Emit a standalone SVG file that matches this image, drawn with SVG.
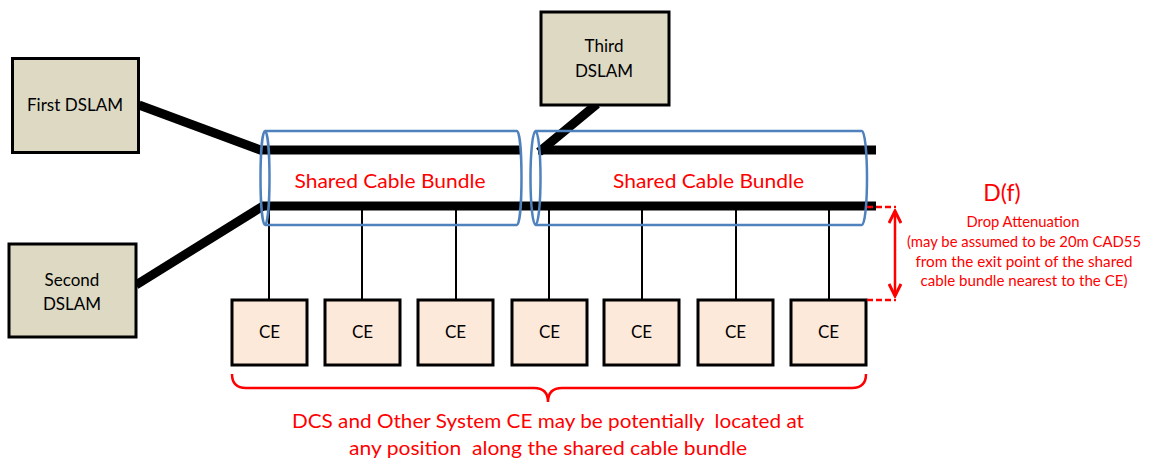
<svg xmlns="http://www.w3.org/2000/svg" width="1157" height="459" viewBox="0 0 1157 459">
<defs>
<style>
.dslam{fill:#DDD9C3;stroke:#000;stroke-width:3}
.ce{fill:#FDE9D9;stroke:#000;stroke-width:3}
.lbl{font-family:Lato,"Liberation Sans",sans-serif;font-size:17px;fill:#000;text-anchor:middle}
.red{font-family:Lato,"Liberation Sans",sans-serif;fill:#FF0000;text-anchor:middle}
.thick{stroke:#000;stroke-width:9;fill:none}
.drop{stroke:#000;stroke-width:2;fill:none}
.bundle{fill:none;stroke:#4F81BD;stroke-width:2.5}
.rl{stroke:#FF0000;stroke-width:2.5;fill:none}
</style>
<marker id="chev" viewBox="0 0 16 14" refX="14" refY="7" markerWidth="16" markerHeight="14" markerUnits="userSpaceOnUse" orient="auto-start-reverse">
<path d="M2,1 L14,7 L2,13" fill="none" stroke="#FF0000" stroke-width="3"/>
</marker>
</defs>
<rect width="1157" height="459" fill="#fff"/>

<g id="connectors">
<line class="thick" x1="139" y1="105" x2="263" y2="151"/>
<line class="thick" x1="136" y1="285" x2="263" y2="206"/>
<line class="thick" x1="597" y1="104" x2="539" y2="152"/>
<line class="thick" x1="262" y1="150" x2="521" y2="150"/>
<line class="thick" x1="538" y1="150" x2="876" y2="150"/>
<line class="thick" x1="262" y1="206" x2="876" y2="206"/>
<line class="drop" x1="269" y1="206" x2="269" y2="300"/>
<line class="drop" x1="362" y1="206" x2="362" y2="300"/>
<line class="drop" x1="456" y1="206" x2="456" y2="300"/>
<line class="drop" x1="549" y1="206" x2="549" y2="300"/>
<line class="drop" x1="642" y1="206" x2="642" y2="300"/>
<line class="drop" x1="736" y1="206" x2="736" y2="300"/>
<line class="drop" x1="829" y1="206" x2="829" y2="300"/>
</g>

<g id="bundle1">
<ellipse class="bundle" cx="265" cy="178" rx="4.5" ry="47"/>
<path class="bundle" d="M265,131 H517 A4.5,47 0 0 1 517,225 H265"/>
<text class="red" x="390" y="188" font-size="20" textLength="191" lengthAdjust="spacingAndGlyphs">Shared Cable Bundle</text>
</g>
<g id="bundle2">
<ellipse class="bundle" cx="535.5" cy="178" rx="5" ry="47"/>
<path class="bundle" d="M535.5,131 H862 A5,47 0 0 1 862,225 H535.5"/>
<text class="red" x="708.5" y="188" font-size="20" textLength="191" lengthAdjust="spacingAndGlyphs">Shared Cable Bundle</text>
</g>

<g id="first-dslam">
<rect class="dslam" x="12.5" y="58.5" width="126" height="94"/>
<text class="lbl" x="75" y="111" textLength="96" lengthAdjust="spacingAndGlyphs">First DSLAM</text>
</g>
<g id="second-dslam">
<rect class="dslam" x="9" y="244" width="127" height="93"/>
<text class="lbl" x="72" y="286">Second</text>
<text class="lbl" x="72" y="310">DSLAM</text>
</g>
<g id="third-dslam">
<rect class="dslam" x="541" y="12" width="128" height="93"/>
<text class="lbl" x="604" y="52">Third</text>
<text class="lbl" x="604" y="77">DSLAM</text>
</g>

<g id="ce1"><rect class="ce" x="232" y="300" width="75" height="65"/><text class="lbl" x="269.5" y="338">CE</text></g>
<g id="ce2"><rect class="ce" x="325" y="300" width="75" height="65"/><text class="lbl" x="362.5" y="338">CE</text></g>
<g id="ce3"><rect class="ce" x="418" y="300" width="75" height="65"/><text class="lbl" x="455.5" y="338">CE</text></g>
<g id="ce4"><rect class="ce" x="512" y="300" width="75" height="65"/><text class="lbl" x="549.5" y="338">CE</text></g>
<g id="ce5"><rect class="ce" x="604" y="300" width="75" height="65"/><text class="lbl" x="641.5" y="338">CE</text></g>
<g id="ce6"><rect class="ce" x="698" y="300" width="75" height="65"/><text class="lbl" x="735.5" y="338">CE</text></g>
<g id="ce7"><rect class="ce" x="791" y="300" width="75" height="65"/><text class="lbl" x="828.5" y="338">CE</text></g>

<g id="drop-attenuation">
<line class="rl" x1="867" y1="207" x2="896" y2="207" stroke-dasharray="6,3"/>
<line class="rl" x1="867" y1="300" x2="896" y2="300" stroke-dasharray="6,3"/>
<line class="rl" stroke-width="3" x1="895" y1="211" x2="895" y2="296" marker-start="url(#chev)" marker-end="url(#chev)"/>
<text class="red" x="1002" y="201" font-size="23">D(f)</text>
<text class="red" x="1023" y="227" font-size="15" textLength="113" lengthAdjust="spacingAndGlyphs">Drop Attenuation</text>
<text class="red" x="1024" y="247" font-size="15" textLength="234" lengthAdjust="spacingAndGlyphs">(may be assumed to be 20m CAD55</text>
<text class="red" x="1024" y="267" font-size="15" textLength="217" lengthAdjust="spacingAndGlyphs">from the exit point of the shared</text>
<text class="red" x="1024" y="286" font-size="15" textLength="207" lengthAdjust="spacingAndGlyphs">cable bundle nearest to the CE)</text>
</g>

<g id="position-note">
<path class="rl" d="M232,374 Q232,388 246,388 H534 Q548,388 548,402 Q548,388 562,388 H852 Q866,388 866,374"/>
<text class="red" x="548" y="428" font-size="20" xml:space="preserve" textLength="512" lengthAdjust="spacingAndGlyphs">DCS and Other System CE may be potentially  located at</text>
<text class="red" x="548" y="455" font-size="20" xml:space="preserve" textLength="398" lengthAdjust="spacingAndGlyphs">any position  along the shared cable bundle</text>
</g>
</svg>
